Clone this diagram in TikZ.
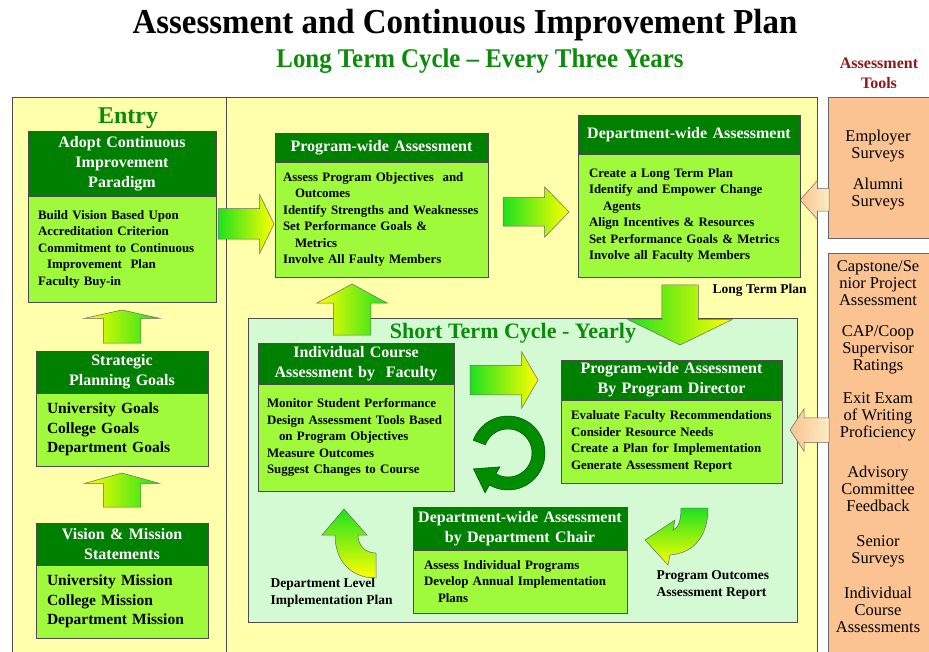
\documentclass[tikz,border=0pt]{standalone}
\usepackage{fontspec}
\setmainfont{Liberation Serif}
\usetikzlibrary{shapes, arrows, positioning}

\definecolor{hdrgreen}{RGB}{0,128,0}
\definecolor{bodygreen}{RGB}{160,250,60}
\definecolor{paleyellow}{RGB}{255,255,172}
\definecolor{mint}{RGB}{212,250,212}
\definecolor{peach}{RGB}{250,195,145}
\definecolor{lightpeach}{RGB}{255,236,195}
\definecolor{toolred}{RGB}{140,25,25}
\definecolor{titlegreen}{RGB}{10,140,10}
\definecolor{arrowgreen}{RGB}{30,225,30}

\begin{document}
\begin{tikzpicture}[x=1pt,y=-1pt,line width=0.6pt]

	\tikzset{hdr/.style={draw=black!70, fill=hdrgreen, text=white, align=center,
			anchor=north west, inner sep=0pt, outer sep=0pt,
			font=\bfseries\fontsize{16}{20}\selectfont},
		bdy/.style={draw=black!70, fill=bodygreen, align=left, inner xsep=10pt,
			inner ysep=0pt, outer sep=0pt, font=\bfseries\fontsize{12.9}{16.5}\selectfont},
		bigbdy/.style={bdy, inner xsep=11pt, font=\bfseries\fontsize{15.5}{19.5}\selectfont},
		blockarrow/.style={single arrow, draw=black!60, line width=0.5pt,
			inner xsep=0pt, outer sep=0pt, minimum width=0pt, anchor=tail},
		greenarrow/.style={blockarrow, left color=arrowgreen, right color=yellow},
		risearrow/.style={blockarrow, rotate=90, left color=yellow, right color=arrowgreen},
		toolarrow/.style={blockarrow, rotate=180, left color=peach, right color=lightpeach},
		tooltext/.style={align=center, font=\fontsize{16.5}{17}\selectfont},
		note/.style={align=left, anchor=west, font=\bfseries\fontsize{13.5}{17}\selectfont}}

	\useasboundingbox (0,0) rectangle (929,652);

	% panels
	\fill[paleyellow] (12,97) rectangle (817,660);
	\draw[black!70] (12,660) -- (12,97) -- (817,97) -- (817,660);
	\draw[black!70] (226,97) -- (226,660);
	\draw[black!70, fill=mint] (248,318) rectangle (797,622);
	\draw[black!60, fill=peach] (828,97) rectangle (940,238);
	\draw[black!60, fill=peach] (828,253) rectangle (940,660);

	% titles
	\node[font=\bfseries\fontsize{35}{35}\selectfont, xscale=0.94] (title) at (465,25) {Assessment and Continuous Improvement Plan};
	\node[font=\bfseries\fontsize{27}{27}\selectfont, xscale=0.92, text=titlegreen] (longcycle) at (480,61) {Long Term Cycle -- Every Three Years};
	\node[font=\bfseries\fontsize{16}{20}\selectfont, text=toolred, align=center] (tools) at (879,73) {Assessment\\Tools};
	\node[font=\bfseries\fontsize{24}{24}\selectfont, text=titlegreen] (entry) at (128,118) {Entry};
	\node[font=\bfseries\fontsize{22}{22}\selectfont, text=titlegreen] (shortcycle) at (513,333) {Short Term Cycle - Yearly};

	% block arrows
	\node[greenarrow, inner ysep=15pt, single arrow head extend=14pt, single arrow tip angle=128, minimum height=56pt] (toprog) at (218,224) {};
	\node[greenarrow, inner ysep=14pt, single arrow head extend=11pt, single arrow tip angle=92, minimum height=66pt] (todept) at (503,212) {};
	\node[greenarrow, inner ysep=14.5pt, single arrow head extend=13.5pt, single arrow tip angle=120, minimum height=68pt] (todir) at (470,380) {};
	\node[risearrow, inner ysep=18.5pt, single arrow head extend=18.5pt, single arrow tip angle=155, minimum height=33pt] (up1) at (122,343) {};
	\node[risearrow, inner ysep=18.5pt, single arrow head extend=18.5pt, single arrow tip angle=149, minimum height=34pt] (up2) at (122,507) {};
	\node[risearrow, inner ysep=18.5pt, single arrow head extend=16.5pt, single arrow tip angle=123, minimum height=51pt] (up3) at (352,335) {};
	\node[blockarrow, rotate=-90, left color=arrowgreen, right color=yellow, inner ysep=18pt, single arrow head extend=34pt, single arrow tip angle=128, minimum height=60pt] (down) at (680,285) {};
	\node[toolarrow, inner ysep=11pt, single arrow head extend=8pt, single arrow tip angle=96, minimum height=29pt] (tool1) at (829,200) {};
	\node[toolarrow, inner ysep=12pt, single arrow head extend=9pt, single arrow tip angle=113, minimum height=39pt] (tool2) at (829,430) {};

	% curved arrows
	\draw[black!60, line width=0.5pt, top color=arrowgreen, bottom color=yellow]
	(344,509) -- (367,535) -- (358,535) .. controls (358,545) and (365,553) .. (376,553)
	-- (376,578) .. controls (350,578) and (335,560) .. (335,535) -- (322,535) -- cycle;
	\draw[black!60, line width=0.5pt, top color=arrowgreen, bottom color=yellow]
	(681,508) -- (708,508) .. controls (708,535) and (695,553) .. (670,555)
	-- (668,565) -- (645,540) -- (675,520) -- (673,530) .. controls (678,528) and (681,522) .. (681,508) -- cycle;
	\draw[draw=green!30!black, fill=hdrgreen!90!green, line width=0.5pt]
	plot[domain=200:480, samples=60] ({508+37*cos(\x)},{453+37*sin(\x)})
	-- ({508+46*cos(120)},{453+46*sin(120)})
	-- ({508+31*cos(120)-22*sin(120)},{453+31*sin(120)+22*cos(120)})
	-- ({508+16*cos(120)},{453+16*sin(120)})
	-- plot[domain=480:200, samples=60] ({508+24*cos(\x)},{453+24*sin(\x)}) -- cycle;

	% entry column
	\node[hdr, text width=188pt, minimum height=65pt] (adopt) at (28,131) {Adopt Continuous\\Improvement\\Paradigm};
	\node[bdy, below=0pt of adopt, text width=168pt, minimum height=106pt] (adoptbody)
	{Build Vision Based Upon\\Accreditation Criterion\\Commitment to Continuous\\\hspace*{9pt}Improvement\ \ Plan\\Faculty Buy-in};
	\node[hdr, text width=172pt, minimum height=42pt] (strategic) at (36,351) {Strategic\\Planning Goals};
	\node[bigbdy, below=0pt of strategic, text width=150pt, minimum height=73pt] (strategicbody)
	{University Goals\\College Goals\\Department Goals};
	\node[hdr, text width=172pt, minimum height=42pt] (vision) at (36,523) {Vision \& Mission\\Statements};
	\node[bigbdy, below=0pt of vision, text width=150pt, minimum height=73pt] (visionbody)
	{University Mission\\College Mission\\Department Mission};

	% long term cycle
	\node[hdr, text width=213pt, minimum height=29pt] (prog) at (275,133) {Program-wide Assessment};
	\node[bdy, below=0pt of prog, inner xsep=8pt, text width=197pt, minimum height=115pt] (progbody)
	{Assess Program Objectives\ \ and\\\hspace*{12pt}Outcomes\\Identify Strengths and Weaknesses\\Set Performance Goals \&\\\hspace*{12pt}Metrics\\Involve All Faulty Members};
	\node[hdr, text width=222pt, minimum height=39pt] (dept) at (578,115) {Department-wide Assessment};
	\node[bdy, below=0pt of dept, inner xsep=11pt, text width=200pt, minimum height=123pt] (deptbody)
	{Create a Long Term Plan\\Identify and Empower Change\\\hspace*{14pt}Agents\\Align Incentives \& Resources\\Set Performance Goals \& Metrics\\Involve all Faculty Members};
	\node[note] (ltplan) at (709,290) {Long Term Plan};

	% short term cycle
	\node[hdr, text width=196pt, minimum height=41pt] (course) at (258,343) {Individual Course\\Assessment by\ \ Faculty};
	\node[bdy, below=0pt of course, inner xsep=9pt, text width=178pt, minimum height=107pt] (coursebody)
	{Monitor Student Performance\\Design Assessment Tools Based\\\hspace*{12pt}on Program Objectives\\Measure Outcomes\\Suggest Changes to Course};
	\node[hdr, text width=221pt, minimum height=40pt] (director) at (561,360) {Program-wide Assessment\\By Program Director};
	\node[bdy, below=0pt of director, text width=201pt, minimum height=83pt] (directorbody)
	{Evaluate Faculty Recommendations\\Consider Resource Needs\\Create a Plan for Implementation\\Generate Assessment Report};
	\node[hdr, text width=214pt, minimum height=43pt] (chair) at (413,507) {Department-wide Assessment\\by Department Chair};
	\node[bdy, below=0pt of chair, inner xsep=11pt, text width=192pt, minimum height=63pt] (chairbody)
	{Assess Individual Programs\\Develop Annual Implementation\\\hspace*{14pt}Plans};
	\node[note] (deptplan) at (267,593) {Department Level\\Implementation Plan};
	\node[note] (outcomes) at (653,585) {Program Outcomes\\Assessment Report};

	% assessment tools
	\node[tooltext] (employer) at (878,146) {Employer\\Surveys};
	\node[tooltext] (alumni) at (878,194) {Alumni\\Surveys};
	\node[tooltext] (capstone) at (878,283) {Capstone/Se\\nior Project\\Assessment};
	\node[tooltext] (coop) at (878,350) {CAP/Coop\\Supervisor\\Ratings};
	\node[tooltext] (exitexam) at (878,417) {Exit Exam\\of Writing\\Proficiency};
	\node[tooltext] (advisory) at (878,489) {Advisory\\Committee\\Feedback};
	\node[tooltext] (senior) at (878,551) {Senior\\Surveys};
	\node[tooltext] (courseassess) at (878,610) {Individual\\Course\\Assessments};

\end{tikzpicture}
\end{document}
